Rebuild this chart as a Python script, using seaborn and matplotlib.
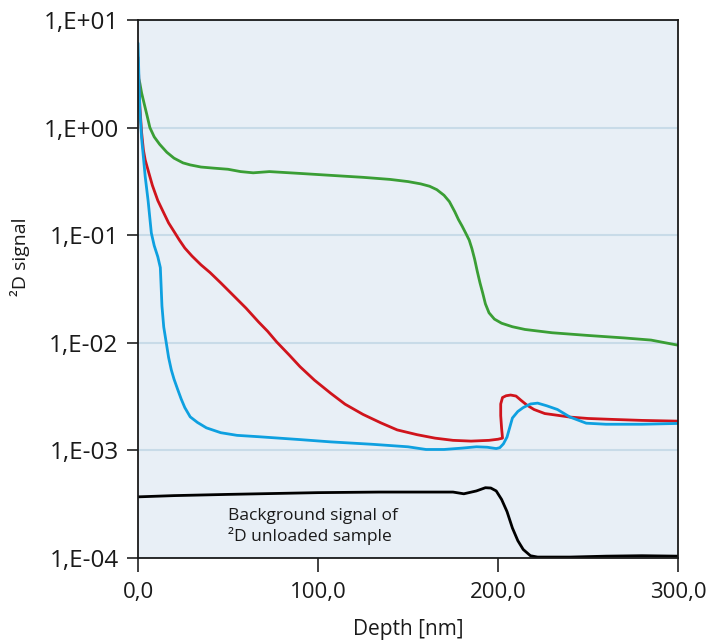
import math
import matplotlib
matplotlib.use("Agg")
import matplotlib.pyplot as plt
import matplotlib.ticker as mticker
import seaborn as sns

# Depth [nm] / signal values
green_depth = [0, 1, 2, 3.5, 5, 6.6, 9, 12, 16, 20, 25, 29, 35, 42, 50, 57, 64, 73, 90,
               107, 125, 140, 150, 157, 162, 166, 170, 173, 176, 178, 180, 182, 184,
               185.5, 187, 188.5, 190, 191.5, 193, 195, 198, 202, 208, 215, 230, 250,
               270, 285, 300]
green_signal = [3.0, 2.6, 2.1, 1.65, 1.3, 1.0, 0.82, 0.7, 0.59, 0.52, 0.47, 0.45, 0.43,
                0.42, 0.41, 0.39, 0.38, 0.39, 0.375, 0.36, 0.345, 0.33, 0.315, 0.3,
                0.285, 0.265, 0.235, 0.205, 0.165, 0.14, 0.122, 0.105, 0.09, 0.075,
                0.06, 0.046, 0.036, 0.029, 0.023, 0.019, 0.0166, 0.0152, 0.0141,
                0.0133, 0.0124, 0.0117, 0.0111, 0.0106, 0.0095]

red_depth = [0, 1, 2, 3, 4, 6, 8, 11, 14, 17, 20.5, 23, 26, 30, 35, 40, 46, 51, 60, 67,
             72, 77, 84, 90, 98, 107, 115, 125, 135, 144, 155, 165, 175, 185, 195, 200,
             202.5, 202, 201.5, 201.5, 202.5, 204.5, 207, 210, 213, 216, 220, 226, 233,
             240, 250, 264, 280, 300]
red_signal = [4.5, 1.6, 0.9, 0.62, 0.5, 0.38, 0.29, 0.21, 0.165, 0.13, 0.105, 0.09,
              0.076, 0.064, 0.053, 0.045, 0.036, 0.0297, 0.021, 0.0156, 0.0128, 0.0102,
              0.0077, 0.006, 0.0045, 0.0034, 0.00269, 0.00216, 0.0018, 0.00155,
              0.0014, 0.0013, 0.00124, 0.00122, 0.00124, 0.00127, 0.0013, 0.0016,
              0.0021, 0.0027, 0.0031, 0.00322, 0.00327, 0.0032, 0.0029, 0.00264,
              0.0024, 0.0022, 0.00212, 0.00204, 0.00198, 0.00194, 0.0019, 0.00187]

blue_depth = [0, 0.5, 1, 2, 3, 4, 5.6, 7.4, 9, 11, 12.4, 12.8, 13.3, 14.3, 15.7, 17,
              18.5, 20, 22, 24, 26, 29, 33, 38, 46, 55, 67, 90, 107, 130, 150, 160, 170,
              180, 188, 194, 199, 201, 203, 205, 208, 211, 214, 218, 222, 227, 233, 240,
              249, 260, 280, 300]
blue_signal = [6.1, 3.0, 1.5, 0.8, 0.53, 0.35, 0.21, 0.105, 0.08, 0.063, 0.05, 0.035,
               0.022, 0.014, 0.01, 0.0073, 0.0056, 0.0046, 0.0037, 0.003, 0.0025,
               0.00205, 0.00182, 0.00162, 0.00146, 0.00138, 0.00134, 0.00126, 0.0012,
               0.00114, 0.00108, 0.00102, 0.00102, 0.00105, 0.00108, 0.00107, 0.00104,
               0.00106, 0.00115, 0.00133, 0.002, 0.0023, 0.0025, 0.0027, 0.00275,
               0.0026, 0.0024, 0.00204, 0.00179, 0.00175, 0.00175, 0.00178]

black_depth = [0, 20, 50, 100, 134, 162, 175, 181, 188, 193, 196, 199, 202, 205, 208,
               211, 214, 218, 222, 240, 260, 280, 300]
black_signal = [0.00037, 0.00038, 0.00039, 0.000405, 0.00041, 0.00041, 0.00041,
                0.000395, 0.00042, 0.00045, 0.000447, 0.00042, 0.00035, 0.00027,
                0.00019, 0.000145, 0.00012, 0.000105, 0.000102, 0.000102, 0.000104,
                0.000105, 0.000104]

x_ticks = [0, 100, 200, 300]
y_ticks = [1e-4, 1e-3, 1e-2, 1e-1, 1e0, 1e1]
note = "Background signal of\n\u00b2D unloaded sample"

sns.set_style("white", {"axes.facecolor": "#e8eff6"})
plt.rcParams["font.family"] = ["Open Sans", "DejaVu Sans"]

fig = plt.figure(figsize=(7.07, 6.43), dpi=100)
ax = fig.add_axes([0.1952, 0.1322, 0.7638, 0.8367])

series = [
    (green_depth, green_signal, "#3a9e35"),
    (red_depth, red_signal, "#d0141c"),
    (blue_depth, blue_signal, "#0ea0e0"),
    (black_depth, black_signal, "#000000"),
]
for xs, ys, col in series:
    sns.lineplot(x=xs, y=ys, sort=False, estimator=None, color=col, lw=2.0, ax=ax)

ax.set_yscale("log")
ax.set_xlim(0, 300)
ax.set_ylim(1e-4, 1e1)
ax.set_xticks(x_ticks)
ax.set_yticks(y_ticks)
ax.yaxis.set_minor_locator(mticker.NullLocator())
ax.xaxis.set_major_formatter(mticker.FuncFormatter(lambda v, p: f"{v:.1f}".replace(".", ",")))
ax.yaxis.set_major_formatter(
    mticker.FuncFormatter(lambda v, p: "1,E{:+03d}".format(int(round(math.log10(v)))))
)

# horizontal grid only
ax.yaxis.grid(True, color="#c8dbe8", lw=1.5)
ax.xaxis.grid(False)
ax.set_axisbelow(True)

for s in ax.spines.values():
    s.set_color("#1a1a1a")
    s.set_linewidth(1.3)

ax.tick_params(axis="y", direction="out", length=8, width=1.3, color="#333333",
               labelsize=17.5, labelcolor="#1a1a1a", pad=6, left=True)
ax.tick_params(axis="x", direction="out", length=10, width=1.3, color="#333333",
               labelsize=16, labelcolor="#1a1a1a", pad=7, bottom=True)

ax.set_xlabel("Depth [nm]", fontsize=15, color="#1a1a1a", labelpad=12)
ax.set_ylabel("\u00b2D signal", fontsize=14, color="#1a1a1a")
ax.yaxis.set_label_coords(-0.2, 0.56)

ax.text(0.167, 0.092, note, transform=ax.transAxes, fontsize=12.5, color="#1a1a1a",
        ha="left", va="top", linespacing=1.2)

fig.savefig("out.png", dpi=100)
